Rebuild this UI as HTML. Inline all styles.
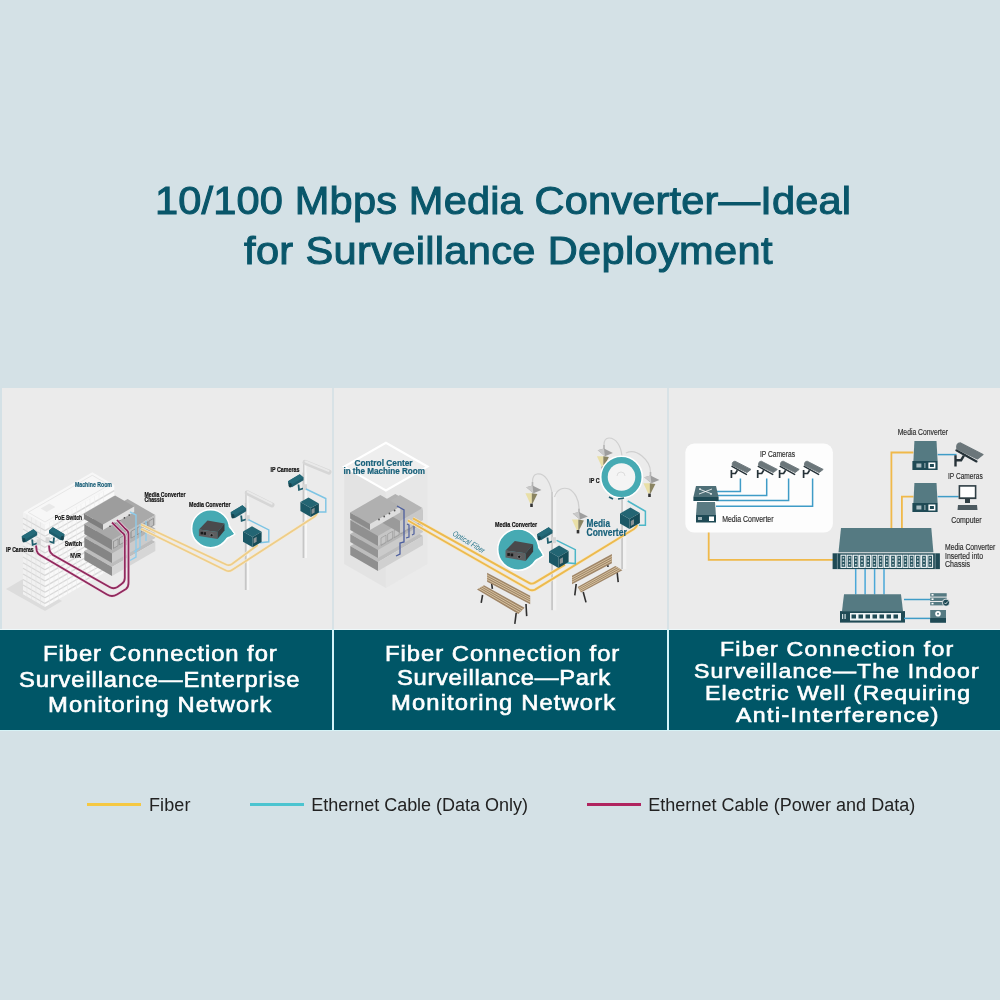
<!DOCTYPE html>
<html><head><meta charset="utf-8">
<style>
html,body{margin:0;padding:0;}
body{width:1000px;height:1000px;background:#d4e1e6;position:relative;overflow:hidden;font-family:"Liberation Sans",sans-serif;}
.t{position:absolute;white-space:nowrap;line-height:1;}
.tt{color:#09566a;}
.ct{color:#fff;}
.lg{color:#222;font-weight:normal;}
.ll{position:absolute;height:3px;}
.blk{position:absolute;}
svg.p{position:absolute;will-change:transform;}
</style></head>
<body>
<div class="blk" style="left:2px;top:388px;width:330px;height:241px;background:#ebebeb;"></div>
<div class="blk" style="left:334px;top:388px;width:333px;height:241px;background:#ebebeb;"></div>
<div class="blk" style="left:669px;top:388px;width:331px;height:241px;background:#ebebeb;"></div>
<div class="blk" style="left:0;top:630px;width:332px;height:100px;background:#005667;"></div>
<div class="blk" style="left:334px;top:630px;width:333px;height:100px;background:#005667;"></div>
<div class="blk" style="left:669px;top:630px;width:331px;height:100px;background:#005667;"></div>
<div class="blk" style="left:0;top:629px;width:1000px;height:1px;background:#eef8fa;"></div>
<div class="blk" style="left:0;top:730px;width:1000px;height:1px;background:#d6f2f6;"></div>
<div class="blk" style="left:332px;top:388px;width:2px;height:241px;background:#d8e2e6;"></div>
<div class="blk" style="left:667px;top:388px;width:2px;height:241px;background:#d8e2e6;"></div>
<div class="blk" style="left:332px;top:629px;width:2px;height:101px;background:#d2f4f8;"></div>
<div class="blk" style="left:667px;top:629px;width:2px;height:101px;background:#d2f4f8;"></div>
<div class="ll" style="left:87px;top:803px;width:54px;background:#f5c842;"></div>
<div class="ll" style="left:250px;top:803px;width:54px;background:#4bc4d0;"></div>
<div class="ll" style="left:587px;top:803px;width:54px;background:#b0245f;"></div>
<svg class="p" style="left:0;top:0" width="1000" height="1000" viewBox="0 0 1000 1000">
<defs><clipPath id="cp1"><rect x="2" y="388" width="330" height="241"/></clipPath></defs><g clip-path="url(#cp1)">
<polygon points="6.0,589.0 23.0,579.0 62.0,601.0 45.0,611.0" fill="#dcdcdc"/>
<polygon points="45.0,525.0 114.3,485.0 92.3,472.3 23.0,512.3" fill="#f7f7f7"/><polygon points="45.0,525.0 23.0,512.3 23.0,594.3 45.0,607.0" fill="#f1f1f1"/><polygon points="45.0,525.0 114.3,485.0 114.3,567.0 45.0,607.0" fill="#f9f9f9"/>
<polygon points="45.0,522.0 109.1,485.0 92.3,475.3 28.2,512.3" fill="none" stroke="#e2e2e2" stroke-width="0.8"/>
<polygon points="46.7,512.0 55.4,507.0 49.3,503.5 40.7,508.5" fill="#e9e9e9"/>
<line x1="45" y1="530.6" x2="114.3" y2="490.6" stroke="#d8d8d8" stroke-width="1.3"/>
<line x1="45" y1="536.2" x2="114.3" y2="496.2" stroke="#d8d8d8" stroke-width="1.3"/>
<line x1="45" y1="541.8" x2="114.3" y2="501.8" stroke="#d8d8d8" stroke-width="1.3"/>
<line x1="45" y1="547.4" x2="114.3" y2="507.4" stroke="#d8d8d8" stroke-width="1.3"/>
<line x1="45" y1="553.0" x2="114.3" y2="513.0" stroke="#d8d8d8" stroke-width="1.3"/>
<line x1="45" y1="558.6" x2="114.3" y2="518.6" stroke="#d8d8d8" stroke-width="1.3"/>
<line x1="45" y1="564.2" x2="114.3" y2="524.2" stroke="#d8d8d8" stroke-width="1.3"/>
<line x1="45" y1="569.8" x2="114.3" y2="529.8" stroke="#d8d8d8" stroke-width="1.3"/>
<line x1="45" y1="575.4" x2="114.3" y2="535.4" stroke="#d8d8d8" stroke-width="1.3"/>
<line x1="45" y1="581.0" x2="114.3" y2="541.0" stroke="#d8d8d8" stroke-width="1.3"/>
<line x1="45" y1="586.6" x2="114.3" y2="546.6" stroke="#d8d8d8" stroke-width="1.3"/>
<line x1="45" y1="592.2" x2="114.3" y2="552.2" stroke="#d8d8d8" stroke-width="1.3"/>
<line x1="45" y1="597.8" x2="114.3" y2="557.8" stroke="#d8d8d8" stroke-width="1.3"/>
<line x1="45" y1="603.4" x2="114.3" y2="563.4" stroke="#d8d8d8" stroke-width="1.3"/>
<line x1="49.5" y1="522.4" x2="49.5" y2="604.4" stroke="#ebebeb" stroke-width="0.6"/>
<line x1="54.0" y1="519.8" x2="54.0" y2="601.8" stroke="#ebebeb" stroke-width="0.6"/>
<line x1="58.5" y1="517.2" x2="58.5" y2="599.2" stroke="#ebebeb" stroke-width="0.6"/>
<line x1="63.0" y1="514.6" x2="63.0" y2="596.6" stroke="#ebebeb" stroke-width="0.6"/>
<line x1="67.5" y1="512.0" x2="67.5" y2="594.0" stroke="#ebebeb" stroke-width="0.6"/>
<line x1="72.0" y1="509.4" x2="72.0" y2="591.4" stroke="#ebebeb" stroke-width="0.6"/>
<line x1="76.5" y1="506.8" x2="76.5" y2="588.8" stroke="#ebebeb" stroke-width="0.6"/>
<line x1="81.0" y1="504.2" x2="81.0" y2="586.2" stroke="#ebebeb" stroke-width="0.6"/>
<line x1="85.5" y1="501.6" x2="85.5" y2="583.6" stroke="#ebebeb" stroke-width="0.6"/>
<line x1="90.0" y1="499.0" x2="90.0" y2="581.0" stroke="#ebebeb" stroke-width="0.6"/>
<line x1="94.5" y1="496.4" x2="94.5" y2="578.4" stroke="#ebebeb" stroke-width="0.6"/>
<line x1="99.0" y1="493.8" x2="99.0" y2="575.8" stroke="#ebebeb" stroke-width="0.6"/>
<line x1="103.5" y1="491.2" x2="103.5" y2="573.2" stroke="#ebebeb" stroke-width="0.6"/>
<line x1="45" y1="530.6" x2="23.0" y2="517.9" stroke="#d6d6d6" stroke-width="1.1"/>
<line x1="45" y1="536.2" x2="23.0" y2="523.5" stroke="#d6d6d6" stroke-width="1.1"/>
<line x1="45" y1="541.8" x2="23.0" y2="529.1" stroke="#d6d6d6" stroke-width="1.1"/>
<line x1="45" y1="547.4" x2="23.0" y2="534.7" stroke="#d6d6d6" stroke-width="1.1"/>
<line x1="45" y1="553.0" x2="23.0" y2="540.3" stroke="#d6d6d6" stroke-width="1.1"/>
<line x1="45" y1="558.6" x2="23.0" y2="545.9" stroke="#d6d6d6" stroke-width="1.1"/>
<line x1="45" y1="564.2" x2="23.0" y2="551.5" stroke="#d6d6d6" stroke-width="1.1"/>
<line x1="45" y1="569.8" x2="23.0" y2="557.1" stroke="#d6d6d6" stroke-width="1.1"/>
<line x1="45" y1="575.4" x2="23.0" y2="562.7" stroke="#d6d6d6" stroke-width="1.1"/>
<line x1="45" y1="581.0" x2="23.0" y2="568.3" stroke="#d6d6d6" stroke-width="1.1"/>
<line x1="45" y1="586.6" x2="23.0" y2="573.9" stroke="#d6d6d6" stroke-width="1.1"/>
<line x1="45" y1="592.2" x2="23.0" y2="579.5" stroke="#d6d6d6" stroke-width="1.1"/>
<line x1="45" y1="597.8" x2="23.0" y2="585.1" stroke="#d6d6d6" stroke-width="1.1"/>
<line x1="45" y1="603.4" x2="23.0" y2="590.7" stroke="#d6d6d6" stroke-width="1.1"/>
<line x1="40.5" y1="522.4" x2="40.5" y2="604.4" stroke="#e3e3e3" stroke-width="0.6"/>
<line x1="36.0" y1="519.8" x2="36.0" y2="601.8" stroke="#e3e3e3" stroke-width="0.6"/>
<line x1="31.5" y1="517.2" x2="31.5" y2="599.2" stroke="#e3e3e3" stroke-width="0.6"/>
<line x1="27.0" y1="514.6" x2="27.0" y2="596.6" stroke="#e3e3e3" stroke-width="0.6"/>
<polygon points="112.0,567.0 155.3,542.0 127.6,526.0 84.3,551.0" fill="#bdbdbd"/><polygon points="112.0,567.0 84.3,551.0 84.3,560.0 112.0,576.0" fill="#8b8b8b"/><polygon points="112.0,567.0 155.3,542.0 155.3,551.0 112.0,576.0" fill="#d6d6d6"/>
<polygon points="112.0,553.5 155.3,528.5 127.6,512.5 84.3,537.5" fill="#b3b3b3"/><polygon points="112.0,553.5 84.3,537.5 84.3,547.0 112.0,563.0" fill="#858585"/><polygon points="112.0,553.5 155.3,528.5 155.3,538.0 112.0,563.0" fill="#cbcbcb"/>
<polygon points="112.0,540.0 155.3,515.0 127.6,499.0 84.3,524.0" fill="#a9a9a9"/><polygon points="112.0,540.0 84.3,524.0 84.3,534.0 112.0,550.0" fill="#868686"/><polygon points="112.0,540.0 155.3,515.0 155.3,525.0 112.0,550.0" fill="#bfbfbf"/>
<polygon points="113.5,541.5 118.1,538.9 118.1,545.7 113.5,548.4" fill="none" stroke="#6e6e6e" stroke-width="0.5"/>
<polygon points="119.4,538.1 124.0,535.4 124.0,542.3 119.4,544.9" fill="none" stroke="#6e6e6e" stroke-width="0.5"/>
<polygon points="125.3,534.7 129.9,532.0 129.9,538.9 125.3,541.5" fill="none" stroke="#6e6e6e" stroke-width="0.5"/>
<polygon points="131.2,531.3 135.8,528.6 135.8,535.5 131.2,538.1" fill="none" stroke="#6e6e6e" stroke-width="0.5"/>
<polygon points="137.1,527.9 141.7,525.2 141.7,532.1 137.1,534.7" fill="none" stroke="#6e6e6e" stroke-width="0.5"/>
<polygon points="143.0,524.5 147.6,521.8 147.6,528.7 143.0,531.3" fill="none" stroke="#6e6e6e" stroke-width="0.5"/>
<polygon points="148.9,521.1 153.5,518.4 153.5,525.3 148.9,527.9" fill="none" stroke="#6e6e6e" stroke-width="0.5"/>
<polygon points="103.0,524.5 134.2,506.5 115.1,495.5 83.9,513.5" fill="#9d9d9d"/><polygon points="103.0,524.5 83.9,513.5 83.9,519.0 103.0,530.0" fill="#7e7e7e"/><polygon points="103.0,524.5 134.2,506.5 134.2,512.0 103.0,530.0" fill="#e2e2e2"/>
<circle cx="110.0" cy="526.2" r="0.8" fill="#444"/>
<circle cx="114.8" cy="523.4" r="0.8" fill="#444"/>
<circle cx="119.6" cy="520.7" r="0.8" fill="#444"/>
<circle cx="124.4" cy="517.9" r="0.8" fill="#444"/>
<circle cx="129.2" cy="515.1" r="0.8" fill="#444"/>
<path d="M130,512 L136,515 L136,557 L129,561" fill="none" stroke="#8ecbea" stroke-width="1.4"/>
<path d="M140,524 L140,548 L134,552" fill="none" stroke="#8ecbea" stroke-width="1.3"/>
<path d="M146,521 L146,541" fill="none" stroke="#8ecbea" stroke-width="1.3"/>
<path d="M36,545.5 L36.8,551 Q37.5,553.5 40,555 L107,594.5 Q112,597.5 117,594.5 L126,589 Q128.5,587 128.5,583 L128.5,534 Q128.5,531 125.5,529 L117,520" fill="none" stroke="#f0d8e4" stroke-width="3.0"/>
<path d="M36,545.5 L36.8,551 Q37.5,553.5 40,555 L107,594.5 Q112,597.5 117,594.5 L126,589 Q128.5,587 128.5,583 L128.5,534 Q128.5,531 125.5,529 L117,520" fill="none" stroke="#912a5e" stroke-width="1.8"/>
<path d="M49,545.5 L49.6,550.5 Q50.2,553 53,555 L109.5,587 Q113.5,589.5 117.5,587 L121.5,584 Q124.8,582 124.8,578 L124.8,537 Q124.8,534 121.5,532 L112,522.5" fill="none" stroke="#f0d8e4" stroke-width="3.0"/>
<path d="M49,545.5 L49.6,550.5 Q50.2,553 53,555 L109.5,587 Q113.5,589.5 117.5,587 L121.5,584 Q124.8,582 124.8,578 L124.8,537 Q124.8,534 121.5,532 L112,522.5" fill="none" stroke="#912a5e" stroke-width="1.8"/>
<g transform="translate(21.7,537)"><path d="M10.5,2.5 L11,7.8 L16.5,6" fill="none" stroke="#1f5e6d" stroke-width="1.8"/><rect x="15" y="2.2" width="4" height="6" fill="#d6d6d6"/><polygon points="0.0,-0.8 11.7,-7.7 15.5,-4.6 15.5,-1.8 3.9,5.2 0.2,2.2" fill="#1f5e6d"/><polygon points="0.0,-0.8 11.7,-7.7 15.5,-4.6 3.6,2.5" fill="#246a79"/><ellipse cx="2.2" cy="3.2" rx="1.6" ry="2.2" fill="#15434e"/></g>
<g transform="translate(64.5,535) scale(-1,1)"><path d="M10.5,2.5 L11,7.8 L16.5,6" fill="none" stroke="#1f5e6d" stroke-width="1.8"/><rect x="15" y="2.2" width="4" height="6" fill="#d6d6d6"/><polygon points="0.0,-0.8 11.7,-7.7 15.5,-4.6 15.5,-1.8 3.9,5.2 0.2,2.2" fill="#1f5e6d"/><polygon points="0.0,-0.8 11.7,-7.7 15.5,-4.6 3.6,2.5" fill="#246a79"/><ellipse cx="2.2" cy="3.2" rx="1.6" ry="2.2" fill="#15434e"/></g>
<rect x="244.8" y="503" width="2" height="87" fill="#c6c6c6"/>
<rect x="246.8" y="503" width="2.4" height="87" fill="#f6f6f6"/>
<rect x="245.3" y="491" width="1.5" height="14" fill="#cbcbcb"/>
<rect x="246.8" y="491" width="1.8" height="14" fill="#f4f4f4"/>
<line x1="247.3" y1="492.8" x2="272" y2="504.90000000000003" stroke="#d6d6d6" stroke-width="5" stroke-linecap="round"/>
<line x1="247.8" y1="491.9" x2="271.5" y2="503.70000000000005" stroke="#e9e9e9" stroke-width="2" stroke-linecap="round"/>
<rect x="302.6" y="472.6" width="2" height="85.39999999999998" fill="#c6c6c6"/>
<rect x="304.6" y="472.6" width="2.4" height="85.39999999999998" fill="#f6f6f6"/>
<rect x="303.1" y="460.6" width="1.5" height="14" fill="#cbcbcb"/>
<rect x="304.6" y="460.6" width="1.8" height="14" fill="#f4f4f4"/>
<line x1="305.1" y1="462.40000000000003" x2="329" y2="472.1" stroke="#d6d6d6" stroke-width="5" stroke-linecap="round"/>
<line x1="305.6" y1="461.5" x2="328.5" y2="470.90000000000003" stroke="#e9e9e9" stroke-width="2" stroke-linecap="round"/>
<path d="M141,524.6 L226,564.5 Q229,566 232,564 L257.8,545" fill="none" stroke="#f6ead2" stroke-width="3"/>
<path d="M141,524.6 L226,564.5 Q229,566 232,564 L257.8,545" fill="none" stroke="#eecd88" stroke-width="1.7"/>
<path d="M141,528.7 L226,570.5 Q229,572 232,570 L314,517 Q317,515 317,512" fill="none" stroke="#f6ead2" stroke-width="3"/>
<path d="M141,528.7 L226,570.5 Q229,572 232,570 L314,517 Q317,515 317,512" fill="none" stroke="#eecd88" stroke-width="1.7"/>
<g transform="translate(230.7,513)"><path d="M10.5,2.5 L11,7.8 L16.5,6" fill="none" stroke="#1f5e6d" stroke-width="1.8"/><rect x="15" y="2.2" width="4" height="6" fill="#d6d6d6"/><polygon points="0.0,-0.8 11.7,-7.7 15.5,-4.6 15.5,-1.8 3.9,5.2 0.2,2.2" fill="#1f5e6d"/><polygon points="0.0,-0.8 11.7,-7.7 15.5,-4.6 3.6,2.5" fill="#246a79"/><ellipse cx="2.2" cy="3.2" rx="1.6" ry="2.2" fill="#15434e"/></g>
<g transform="translate(288,482)"><path d="M10.5,2.5 L11,7.8 L16.5,6" fill="none" stroke="#1f5e6d" stroke-width="1.8"/><rect x="15" y="2.2" width="4" height="6" fill="#d6d6d6"/><polygon points="0.0,-0.8 11.7,-7.7 15.5,-4.6 15.5,-1.8 3.9,5.2 0.2,2.2" fill="#1f5e6d"/><polygon points="0.0,-0.8 11.7,-7.7 15.5,-4.6 3.6,2.5" fill="#246a79"/><ellipse cx="2.2" cy="3.2" rx="1.6" ry="2.2" fill="#15434e"/></g>
<path d="M248.4,519.7 L268.8,530 L268.8,541.8 L260,542.7" fill="none" stroke="#7cc4e4" stroke-width="1.4"/>
<path d="M306,489 L325.8,498.5 L325.8,512 L318,512" fill="none" stroke="#7cc4e4" stroke-width="1.4"/>
<polygon points="252.6,537.0 261.6,531.8 252.0,526.2 243.0,531.5" fill="#236573"/><polygon points="252.6,537.0 243.0,531.5 243.0,541.7 252.6,547.2" fill="#1b5866"/><polygon points="252.6,537.0 261.6,531.8 261.6,542.0 252.6,547.2" fill="#164c58"/>
<polygon points="253.6,538.5 256.6,536.8 256.6,541.8 253.6,543.5" fill="#8a9396"/>
<polygon points="310.8,508.0 318.9,503.4 308.5,497.4 300.4,502.0" fill="#236573"/><polygon points="310.8,508.0 300.4,502.0 300.4,511.0 310.8,517.0" fill="#1b5866"/><polygon points="310.8,508.0 318.9,503.4 318.9,512.4 310.8,517.0" fill="#164c58"/>
<polygon points="311.6,509.5 314.6,507.8 314.6,512.5 311.6,514.2" fill="#8a9396"/>
<polygon points="229.4,526.2 234.8,534.1 226.6,538.9" fill="#46aab3" stroke="#fff" stroke-width="1.6" stroke-linejoin="round"/><circle cx="210.6" cy="528.7" r="19" fill="#46aab3" stroke="#fff" stroke-width="1.6"/><polygon points="228.5,526.7 233.8,533.9 225.9,538.1 225.2,532.0" fill="#46aab3"/>
<polygon points="198.9,529.4 207.5,520.5 224.5,523.6 217.5,532.0" fill="#4a4a4c"/><polygon points="198.9,529.4 217.5,532.0 217.5,539.0 198.9,536.0" fill="#5e5e60"/><polygon points="217.5,532.0 224.5,523.6 224.5,530.5 217.5,539.0" fill="#3a3a3c"/><rect x="200.6" y="531.8" width="2.4" height="2.6" fill="#1a1a1a"/><rect x="203.6" y="532.2" width="2.4" height="2.6" fill="#1a1a1a"/><circle cx="211.6" cy="535.2" r="1.5" fill="#151515" stroke="#9a9a9a" stroke-width="0.5"/>
</g>
<text x="75" y="486.6" font-family="Liberation Sans" font-weight="bold" font-size="7.2" fill="#1a5f78" stroke="#1a5f78" stroke-width="0.22" textLength="37.0" lengthAdjust="spacingAndGlyphs">Machine Room</text>
<text x="54.7" y="519.6" font-family="Liberation Sans" font-weight="bold" font-size="7.2" fill="#111" stroke="#111" stroke-width="0.22" textLength="27.5" lengthAdjust="spacingAndGlyphs">PoE Switch</text>
<text x="64.8" y="545.6" font-family="Liberation Sans" font-weight="bold" font-size="7.2" fill="#111" stroke="#111" stroke-width="0.22" textLength="17.2" lengthAdjust="spacingAndGlyphs">Switch</text>
<text x="70.2" y="558.3" font-family="Liberation Sans" font-weight="bold" font-size="7.2" fill="#111" stroke="#111" stroke-width="0.22" textLength="10.8" lengthAdjust="spacingAndGlyphs">NVR</text>
<text x="6" y="551.9" font-family="Liberation Sans" font-weight="bold" font-size="7.2" fill="#111" stroke="#111" stroke-width="0.22" textLength="27.7" lengthAdjust="spacingAndGlyphs">IP Cameras</text>
<text x="144.5" y="497.1" font-family="Liberation Sans" font-weight="bold" font-size="7.2" fill="#111" stroke="#111" stroke-width="0.22" textLength="41.0" lengthAdjust="spacingAndGlyphs">Media Converter</text>
<text x="144.5" y="502.1" font-family="Liberation Sans" font-weight="bold" font-size="7.2" fill="#111" stroke="#111" stroke-width="0.22" textLength="19.5" lengthAdjust="spacingAndGlyphs">Chassis</text>
<text x="189" y="507.0" font-family="Liberation Sans" font-weight="bold" font-size="7.2" fill="#111" stroke="#111" stroke-width="0.22" textLength="41.6" lengthAdjust="spacingAndGlyphs">Media Converter</text>
<text x="270.5" y="471.6" font-family="Liberation Sans" font-weight="bold" font-size="7.2" fill="#111" stroke="#111" stroke-width="0.22" textLength="29.0" lengthAdjust="spacingAndGlyphs">IP Cameras</text>
</svg><svg class="p" style="left:0;top:0" width="1000" height="1000" viewBox="0 0 1000 1000">
<defs><clipPath id="cp2"><rect x="334" y="388" width="333" height="241"/></clipPath></defs><g clip-path="url(#cp2)">
<polygon points="344.2,466.6 385.9,490.4 385.9,588.0 344.2,564.0" fill="#e3e3e3"/>
<polygon points="385.9,490.4 427.5,466.6 427.5,564.0 385.9,588.0" fill="#e7e7e7"/>
<polygon points="344.2,466.6 385.9,442.8 427.5,466.6 385.9,490.4" fill="#eeeeee" stroke="#ffffff" stroke-width="2.2"/>
<polygon points="378.0,562.0 423.0,536.0 395.3,520.0 350.3,546.0" fill="#bdbdbd"/><polygon points="378.0,562.0 350.3,546.0 350.3,555.0 378.0,571.0" fill="#8f8f8f"/><polygon points="378.0,562.0 423.0,536.0 423.0,545.0 378.0,571.0" fill="#d0d0d0"/>
<polygon points="378.0,550.0 423.0,524.0 395.3,508.0 350.3,534.0" fill="#b7b7b7"/><polygon points="378.0,550.0 350.3,534.0 350.3,542.0 378.0,558.0" fill="#939393"/><polygon points="378.0,550.0 423.0,524.0 423.0,532.0 378.0,558.0" fill="#cbcbcb"/>
<polygon points="378.0,536.0 423.0,510.0 395.3,494.0 350.3,520.0" fill="#b2b2b2"/><polygon points="378.0,536.0 350.3,520.0 350.3,530.0 378.0,546.0" fill="#909090"/><polygon points="378.0,536.0 423.0,510.0 423.0,520.0 378.0,546.0" fill="#c6c6c6"/>
<polygon points="381.0,538.0 386.0,535.1 386.0,542.5 381.0,545.4" fill="none" stroke="#8a8a8a" stroke-width="0.5"/>
<polygon points="387.6,534.2 392.6,531.3 392.6,538.7 387.6,541.6" fill="none" stroke="#8a8a8a" stroke-width="0.5"/>
<polygon points="394.2,530.4 399.2,527.5 399.2,534.9 394.2,537.8" fill="none" stroke="#8a8a8a" stroke-width="0.5"/>
<polygon points="400.8,526.6 405.8,523.7 405.8,531.1 400.8,534.0" fill="none" stroke="#8a8a8a" stroke-width="0.5"/>
<polygon points="407.4,522.8 412.4,519.9 412.4,527.3 407.4,530.2" fill="none" stroke="#8a8a8a" stroke-width="0.5"/>
<polygon points="414.0,519.0 419.0,516.1 419.0,523.5 414.0,526.4" fill="none" stroke="#8a8a8a" stroke-width="0.5"/>
<polygon points="400.0,521.0 422.5,508.0 400.0,495.0 377.5,508.0" fill="#b5b5b5"/><polygon points="400.0,521.0 377.5,508.0 377.5,520.0 400.0,533.0" fill="#9a9a9a"/><polygon points="400.0,521.0 422.5,508.0 422.5,520.0 400.0,533.0" fill="#c8c8c8"/>
<polygon points="370.0,524.0 400.3,506.5 380.4,495.0 350.1,512.5" fill="#b0b0b0"/><polygon points="370.0,524.0 350.1,512.5 350.1,518.5 370.0,530.0" fill="#8c8c8c"/><polygon points="370.0,524.0 400.3,506.5 400.3,512.5 370.0,530.0" fill="#dedede"/>
<circle cx="379.0" cy="519.5" r="0.9" fill="#555"/>
<circle cx="384.2" cy="516.5" r="0.9" fill="#555"/>
<circle cx="389.4" cy="513.5" r="0.9" fill="#555"/>
<circle cx="394.6" cy="510.5" r="0.9" fill="#555"/>
<path d="M397,506 L404,510 L404,542 L400,543 L400,554 L396,556" fill="none" stroke="#4d5f9e" stroke-width="1.3"/>
<path d="M407,524 L409,525 L409,537 L406,538" fill="none" stroke="#4d5f9e" stroke-width="1.2"/>
<path d="M413,523 L414,524 L414,534 L412,535" fill="none" stroke="#4d5f9e" stroke-width="1.2"/>
<rect x="551.2" y="492" width="1.9" height="118.20000000000005" fill="#c8c8c8"/>
<rect x="553.1" y="492" width="3.2" height="118.20000000000005" fill="#f2f2f2"/>
<rect x="621.2" y="490" width="1.9" height="79" fill="#c8c8c8"/>
<rect x="623.1" y="490" width="3.2" height="79" fill="#f2f2f2"/>
<path d="M413,518.4 L529,582.8 Q532,584.5 535,582.6 L565,564.6" fill="none" stroke="#f7e6c2" stroke-width="3.2"/>
<path d="M413,518.4 L529,582.8 Q532,584.5 535,582.6 L565,564.6" fill="none" stroke="#ecba4e" stroke-width="1.9"/>
<path d="M408,520.5 L529,589.5 Q532,591 535,589.6 L634,529 Q637,527 637,525" fill="none" stroke="#f7e6c2" stroke-width="3.2"/>
<path d="M408,520.5 L529,589.5 Q532,591 535,589.6 L634,529 Q637,527 637,525" fill="none" stroke="#ecba4e" stroke-width="1.9"/>
<line x1="482.6" y1="595" x2="481.2" y2="602.8" stroke="#2f2f2f" stroke-width="1.6"/><line x1="491.7" y1="584" x2="492.4" y2="588.8" stroke="#2f2f2f" stroke-width="1.6"/><line x1="526" y1="604" x2="526.7" y2="616.1" stroke="#2f2f2f" stroke-width="1.6"/><line x1="516.2" y1="613" x2="514.8" y2="623.8" stroke="#2f2f2f" stroke-width="1.6"/><polygon points="487.1,572.7 530.2,595.8 530.2,604.2 487.1,581.8" fill="#a08668"/><line x1="487.1" y1="575.0" x2="530.2" y2="597.9" stroke="#e2cfab" stroke-width="0.8"/><line x1="487.1" y1="577.2" x2="530.2" y2="600.0" stroke="#e2cfab" stroke-width="0.8"/><line x1="487.1" y1="579.5" x2="530.2" y2="602.1" stroke="#e2cfab" stroke-width="0.8"/><polygon points="484.0,585.3 524.6,607.7 518.3,614.0 477.0,589.5" fill="#a08668"/><line x1="482.2" y1="586.3" x2="523.0" y2="609.3" stroke="#e2cfab" stroke-width="0.8"/><line x1="480.5" y1="587.4" x2="521.5" y2="610.9" stroke="#e2cfab" stroke-width="0.8"/><line x1="478.8" y1="588.5" x2="519.9" y2="612.4" stroke="#e2cfab" stroke-width="0.8"/>
<line x1="576.2" y1="584" x2="574.8" y2="595.4" stroke="#2f2f2f" stroke-width="1.6"/><line x1="583.2" y1="592" x2="586" y2="602.4" stroke="#2f2f2f" stroke-width="1.6"/><line x1="616.8" y1="569" x2="618.2" y2="582.1" stroke="#2f2f2f" stroke-width="1.6"/><line x1="607" y1="560" x2="608" y2="567" stroke="#2f2f2f" stroke-width="1.6"/><polygon points="572.0,575.8 611.9,554.1 611.9,563.2 572.0,584.2" fill="#a08668"/><line x1="572.0" y1="577.9" x2="611.9" y2="556.4" stroke="#e2cfab" stroke-width="0.8"/><line x1="572.0" y1="580.0" x2="611.9" y2="558.7" stroke="#e2cfab" stroke-width="0.8"/><line x1="572.0" y1="582.1" x2="611.9" y2="560.9" stroke="#e2cfab" stroke-width="0.8"/><polygon points="577.6,587.0 615.4,566.0 622.4,570.2 581.0,592.6" fill="#a08668"/><line x1="578.5" y1="588.4" x2="617.1" y2="567.0" stroke="#e2cfab" stroke-width="0.8"/><line x1="579.3" y1="589.8" x2="618.9" y2="568.1" stroke="#e2cfab" stroke-width="0.8"/><line x1="580.1" y1="591.2" x2="620.6" y2="569.2" stroke="#e2cfab" stroke-width="0.8"/>
<path d="M552.6,497 C551,482 545,473 537,474 C534,474.5 532.5,478 532.5,482" fill="none" stroke="#cfcfcf" stroke-width="1.2"/>
<path d="M554.5,497 C557,489 563,487 569,489 C575,492 579,500 579,508" fill="none" stroke="#cfcfcf" stroke-width="1.2"/>
<path d="M622,456 C621,446 616,438 609,438 C605,438 604,441 604,445" fill="none" stroke="#cfcfcf" stroke-width="1.2"/>
<path d="M626,453 C630,451 636,451 642,456 C648,461 650.5,466 650.5,472" fill="none" stroke="#cfcfcf" stroke-width="1.2"/>
<rect x="531.7" y="482" width="1.6" height="6" fill="#b4b4b4"/><polygon points="526.2,487.2 532.5,485.5 541.4,490.0 533.4,493.2" fill="#9e9e9e"/><polygon points="526.2,487.2 532.5,485.5 533.4,493.2" fill="#c9c9c9"/><polygon points="525.4,493.2 531.8,493.2 531.8,503.6 530.2,503.6" fill="#e9dfa6"/><polygon points="531.8,493.2 537.4,494.0 532.6,503.6 531.8,503.6" fill="#8a8462"/><rect x="530.2" y="503.6" width="2.6" height="3.4" fill="#333"/>
<rect x="578.2" y="508.4" width="1.6" height="6" fill="#b4b4b4"/><polygon points="572.7,513.6 579.0,511.9 587.9,516.4 579.9,519.6" fill="#9e9e9e"/><polygon points="572.7,513.6 579.0,511.9 579.9,519.6" fill="#c9c9c9"/><polygon points="571.9,519.6 578.3,519.6 578.3,530.0 576.7,530.0" fill="#e9dfa6"/><polygon points="578.3,519.6 583.9,520.4 579.1,530.0 578.3,530.0" fill="#8a8462"/><rect x="576.7" y="530.0" width="2.6" height="3.4" fill="#333"/>
<rect x="603.2" y="445" width="1.6" height="6" fill="#b4b4b4"/><polygon points="597.7,450.2 604.0,448.5 612.9,453.0 604.9,456.2" fill="#9e9e9e"/><polygon points="597.7,450.2 604.0,448.5 604.9,456.2" fill="#c9c9c9"/><polygon points="596.9,456.2 603.3,456.2 603.3,466.6 601.7,466.6" fill="#e9dfa6"/><polygon points="603.3,456.2 608.9,457.0 604.1,466.6 603.3,466.6" fill="#8a8462"/><rect x="601.7" y="466.6" width="2.6" height="3.4" fill="#333"/>
<rect x="649.7" y="472" width="1.6" height="6" fill="#b4b4b4"/><polygon points="644.2,477.2 650.5,475.5 659.4,480.0 651.4,483.2" fill="#9e9e9e"/><polygon points="644.2,477.2 650.5,475.5 651.4,483.2" fill="#c9c9c9"/><polygon points="643.4,483.2 649.8,483.2 649.8,493.6 648.2,493.6" fill="#e9dfa6"/><polygon points="649.8,483.2 655.4,484.0 650.6,493.6 649.8,493.6" fill="#8a8462"/><rect x="648.2" y="493.6" width="2.6" height="3.4" fill="#333"/>
<g transform="translate(537,535)"><path d="M10.5,2.5 L11,7.8 L16.5,6" fill="none" stroke="#1f5e6d" stroke-width="1.8"/><rect x="15" y="2.2" width="4" height="6" fill="#d6d6d6"/><polygon points="0.0,-0.8 11.7,-7.7 15.5,-4.6 15.5,-1.8 3.9,5.2 0.2,2.2" fill="#1f5e6d"/><polygon points="0.0,-0.8 11.7,-7.7 15.5,-4.6 3.6,2.5" fill="#246a79"/><ellipse cx="2.2" cy="3.2" rx="1.6" ry="2.2" fill="#15434e"/></g>
<path d="M556.6,540.3 L575.3,549.6 L575.3,563.6 L566,562.7" fill="none" stroke="#4db7c8" stroke-width="1.5"/>
<path d="M627.7,501 L645.4,511.3 L645.4,525.3 L638.9,525.3" fill="none" stroke="#4db7c8" stroke-width="1.5"/>
<polygon points="558.5,557.0 568.6,551.1 559.1,545.6 549.0,551.5" fill="#236573"/><polygon points="558.5,557.0 549.0,551.5 549.0,562.5 558.5,568.0" fill="#1b5866"/><polygon points="558.5,557.0 568.6,551.1 568.6,562.1 558.5,568.0" fill="#164c58"/>
<polygon points="559.8,559 563,557.2 563,562.5 559.8,564.3" fill="#8a9396"/>
<polygon points="629.5,519.0 639.9,513.0 630.4,507.5 620.0,513.5" fill="#236573"/><polygon points="629.5,519.0 620.0,513.5 620.0,523.5 629.5,529.0" fill="#1b5866"/><polygon points="629.5,519.0 639.9,513.0 639.9,523.0 629.5,529.0" fill="#164c58"/>
<polygon points="630.8,521 634,519.2 634,524.2 630.8,526" fill="#8a9396"/>
<polygon points="538.8,547.1 543.5,555.5 535.5,560.9" fill="#46aab3" stroke="#fff" stroke-width="1.6" stroke-linejoin="round"/><circle cx="518.3" cy="549.6" r="20.6" fill="#46aab3" stroke="#fff" stroke-width="1.6"/><polygon points="537.8,547.6 542.5,555.3 534.9,560.0 534.5,553.4" fill="#46aab3"/>
<polygon points="505.5,550.5 514.8,540.9 533.1,544.2 525.6,553.3" fill="#4a4a4c"/><polygon points="505.5,550.5 525.6,553.3 525.6,560.9 505.5,557.6" fill="#5e5e60"/><polygon points="525.6,553.3 533.1,544.2 533.1,551.7 525.6,560.9" fill="#3a3a3c"/><rect x="507.3" y="553.1" width="2.6" height="2.8" fill="#1a1a1a"/><rect x="510.6" y="553.5" width="2.6" height="2.8" fill="#1a1a1a"/><circle cx="519.2" cy="556.8" r="1.6" fill="#151515" stroke="#9a9a9a" stroke-width="0.5"/>
<circle cx="621.5" cy="477" r="20.8" fill="#46aab3" stroke="#fff" stroke-width="1.6"/>
<circle cx="621.5" cy="477" r="13.8" fill="#f4f4f4"/>
<path d="M617,476 A4,4 0 0 1 625,476" fill="none" stroke="#ccc" stroke-width="0.6"/>
<path d="M609,497 L613,499" stroke="#1f5e6d" stroke-width="1.6"/><path d="M618,499 L624,498" stroke="#1f5e6d" stroke-width="1.6"/>
</g>
<text x="354.4" y="465.7" font-family="Liberation Sans" font-weight="bold" font-size="9.5" fill="#17607a" stroke="#17607a" stroke-width="0.22" textLength="58.2" lengthAdjust="spacingAndGlyphs">Control Center</text>
<text x="343.4" y="473.7" font-family="Liberation Sans" font-weight="bold" font-size="9.5" fill="#17607a" stroke="#17607a" stroke-width="0.22" textLength="81.6" lengthAdjust="spacingAndGlyphs">in the Machine Room</text>
<text x="495" y="527.0" font-family="Liberation Sans" font-weight="bold" font-size="7.2" fill="#111" stroke="#111" stroke-width="0.22" textLength="42.0" lengthAdjust="spacingAndGlyphs">Media Converter</text>
<text x="589.3" y="483.1" font-family="Liberation Sans" font-weight="bold" font-size="7.2" fill="#111" stroke="#111" stroke-width="0.22" textLength="10.3" lengthAdjust="spacingAndGlyphs">IP C</text>
<text x="586.5" y="527.2" font-family="Liberation Sans" font-weight="bold" font-size="10.5" fill="#17607a" stroke="#17607a" stroke-width="0.22" textLength="23.5" lengthAdjust="spacingAndGlyphs">Media</text>
<text x="586.5" y="535.6" font-family="Liberation Sans" font-weight="bold" font-size="10.5" fill="#17607a" stroke="#17607a" stroke-width="0.22" textLength="40.2" lengthAdjust="spacingAndGlyphs">Converter</text>
<text x="0" y="0" font-family="Liberation Sans" font-style="italic" font-size="8" fill="#2f7a8e" textLength="36" lengthAdjust="spacingAndGlyphs" transform="translate(452,535) rotate(31)">Optical Fiber</text>
</svg><svg class="p" style="left:0;top:0" width="1000" height="1000" viewBox="0 0 1000 1000">
<defs><clipPath id="cp3"><rect x="669" y="388" width="331" height="241"/></clipPath></defs><g clip-path="url(#cp3)">
<rect x="685.3" y="443.5" width="147.6" height="89.1" rx="9" fill="#fdfdfd"/>
<path d="M708.7,532.6 L708.7,559.8 L833,559.8" fill="none" stroke="#f0b94a" stroke-width="1.8"/>
<path d="M891.4,528.1 L891.4,452.5 L913.4,452.5" fill="none" stroke="#f0b94a" stroke-width="1.8"/>
<path d="M901.9,528.1 L901.9,496.6 L913.4,496.6" fill="none" stroke="#f0b94a" stroke-width="1.8"/>
<path d="M740.4,478.6 L740.4,491.5 L716,491.5" fill="none" stroke="#3f9cc7" stroke-width="1.5"/>
<path d="M766.7,478.6 L766.7,495.6 L716,495.6" fill="none" stroke="#3f9cc7" stroke-width="1.5"/>
<path d="M788.6,478.6 L788.6,500.4 L716,500.4" fill="none" stroke="#3f9cc7" stroke-width="1.5"/>
<path d="M812.6,478.6 L812.6,506.2 L716,506.2" fill="none" stroke="#3f9cc7" stroke-width="1.5"/>
<g transform="translate(731.4,478) scale(1.0)"><path d="M0,-8 L0,0 M0,-4.5 L4,-4.5 L6,-7.8" fill="none" stroke="#263238" stroke-width="1.7"/><path d="M0.6,-11.6 L15,-3.6" fill="none" stroke="#263238" stroke-width="1.5" stroke-linecap="round"/><path d="M3.6,-16.8 Q0.2,-16.5 1,-12.6 L15.6,-5.4 L19.6,-8.6 Z" fill="#6b767a" stroke="#6b767a" stroke-width="0.9" stroke-linejoin="round"/></g>
<g transform="translate(757.7,478) scale(1.0)"><path d="M0,-8 L0,0 M0,-4.5 L4,-4.5 L6,-7.8" fill="none" stroke="#263238" stroke-width="1.7"/><path d="M0.6,-11.6 L15,-3.6" fill="none" stroke="#263238" stroke-width="1.5" stroke-linecap="round"/><path d="M3.6,-16.8 Q0.2,-16.5 1,-12.6 L15.6,-5.4 L19.6,-8.6 Z" fill="#6b767a" stroke="#6b767a" stroke-width="0.9" stroke-linejoin="round"/></g>
<g transform="translate(779.6,478) scale(1.0)"><path d="M0,-8 L0,0 M0,-4.5 L4,-4.5 L6,-7.8" fill="none" stroke="#263238" stroke-width="1.7"/><path d="M0.6,-11.6 L15,-3.6" fill="none" stroke="#263238" stroke-width="1.5" stroke-linecap="round"/><path d="M3.6,-16.8 Q0.2,-16.5 1,-12.6 L15.6,-5.4 L19.6,-8.6 Z" fill="#6b767a" stroke="#6b767a" stroke-width="0.9" stroke-linejoin="round"/></g>
<g transform="translate(803.6,478) scale(1.0)"><path d="M0,-8 L0,0 M0,-4.5 L4,-4.5 L6,-7.8" fill="none" stroke="#263238" stroke-width="1.7"/><path d="M0.6,-11.6 L15,-3.6" fill="none" stroke="#263238" stroke-width="1.5" stroke-linecap="round"/><path d="M3.6,-16.8 Q0.2,-16.5 1,-12.6 L15.6,-5.4 L19.6,-8.6 Z" fill="#6b767a" stroke="#6b767a" stroke-width="0.9" stroke-linejoin="round"/></g>
<polygon points="696.0,486.0 716.0,486.0 718.6,497.0 693.4,497.0" fill="#4e6f77"/>
<rect x="693.4" y="497" width="25.2" height="4" fill="#1f4a55"/>
<path d="M699,489 L712,494 M712,489 L699,494 M699,489 l2,-0.2 M712,494 l-2,0.2" stroke="#fff" stroke-width="0.8" fill="none"/>
<polygon points="697.0,502.0 715.0,502.0 715.9,515.0 696.0,515.0" fill="#5a7a82"/>
<rect x="696" y="515" width="20" height="7.5" fill="#1f4a55"/>
<rect x="709" y="516.5" width="5" height="4.5" fill="#fff"/><rect x="698" y="517" width="4" height="3" fill="#9fb3b8"/>
<polygon points="914.4,441.0 936.5,441.0 937.6,461.0 913.4,461.0" fill="#557a82"/><rect x="912.4" y="461" width="25.2" height="9" fill="#1f4a55"/><rect x="928.4" y="462.5" width="7" height="6" fill="#fff"/><rect x="929.9" y="464" width="4" height="3" fill="#1f4a55"/><rect x="916.4" y="463.5" width="5" height="4" fill="#a9bcc1"/><rect x="924.4" y="463" width="1" height="5" fill="#a9bcc1"/>
<polygon points="914.4,483.0 936.5,483.0 937.6,503.0 913.4,503.0" fill="#557a82"/><rect x="912.4" y="503" width="25.2" height="9" fill="#1f4a55"/><rect x="928.4" y="504.5" width="7" height="6" fill="#fff"/><rect x="929.9" y="506" width="4" height="3" fill="#1f4a55"/><rect x="916.4" y="505.5" width="5" height="4" fill="#a9bcc1"/><rect x="924.4" y="505" width="1" height="5" fill="#a9bcc1"/>
<path d="M937.6,454.6 L956.5,454.6" stroke="#3f9cc7" stroke-width="1.5"/>
<path d="M937.6,496.6 L958.6,496.6" stroke="#3f9cc7" stroke-width="1.5"/>
<g transform="translate(955.5,466.5) scale(1.4)"><path d="M0,-8 L0,0 M0,-4.5 L4,-4.5 L6,-7.8" fill="none" stroke="#263238" stroke-width="1.7"/><path d="M0.6,-11.6 L15,-3.6" fill="none" stroke="#263238" stroke-width="1.5" stroke-linecap="round"/><path d="M3.6,-16.8 Q0.2,-16.5 1,-12.6 L15.6,-5.4 L19.6,-8.6 Z" fill="#6b767a" stroke="#6b767a" stroke-width="0.9" stroke-linejoin="round"/></g>
<rect x="958.6" y="485.1" width="17.8" height="14" fill="#2f3e44"/><rect x="960.2" y="486.7" width="14.6" height="10.6" fill="#fff"/>
<rect x="965" y="499" width="5" height="4" fill="#2f3e44"/><polygon points="958,505 977,505 977.5,510 957.5,510" fill="#4c5a60"/>
<polygon points="841.0,528.1 931.3,528.1 933.4,552.3 838.5,552.3" fill="#557a82"/>
<rect x="832.6" y="553.3" width="107.3" height="15.8" fill="#1f4a55"/>
<line x1="837.4" y1="553.3" x2="837.4" y2="569.1" stroke="#9fb5ba" stroke-width="0.6"/>
<line x1="935.2" y1="553.3" x2="935.2" y2="569.1" stroke="#9fb5ba" stroke-width="0.6"/>
<rect x="841.0" y="555.2" width="4.8" height="12.2" fill="#2a5661" stroke="#eef4f5" stroke-width="1.1"/>
<circle cx="843.4" cy="557.8" r="0.9" fill="#c5d3d6"/>
<circle cx="843.4" cy="561.2" r="0.9" fill="#c5d3d6"/>
<circle cx="843.4" cy="564.6" r="0.9" fill="#c5d3d6"/>
<rect x="847.2" y="555.2" width="4.8" height="12.2" fill="#2a5661" stroke="#eef4f5" stroke-width="1.1"/>
<circle cx="849.6" cy="557.8" r="0.9" fill="#c5d3d6"/>
<circle cx="849.6" cy="561.2" r="0.9" fill="#c5d3d6"/>
<circle cx="849.6" cy="564.6" r="0.9" fill="#c5d3d6"/>
<rect x="853.4" y="555.2" width="4.8" height="12.2" fill="#2a5661" stroke="#eef4f5" stroke-width="1.1"/>
<circle cx="855.8" cy="557.8" r="0.9" fill="#c5d3d6"/>
<circle cx="855.8" cy="561.2" r="0.9" fill="#c5d3d6"/>
<circle cx="855.8" cy="564.6" r="0.9" fill="#c5d3d6"/>
<rect x="859.6" y="555.2" width="4.8" height="12.2" fill="#2a5661" stroke="#eef4f5" stroke-width="1.1"/>
<circle cx="862.0" cy="557.8" r="0.9" fill="#c5d3d6"/>
<circle cx="862.0" cy="561.2" r="0.9" fill="#c5d3d6"/>
<circle cx="862.0" cy="564.6" r="0.9" fill="#c5d3d6"/>
<rect x="865.8" y="555.2" width="4.8" height="12.2" fill="#2a5661" stroke="#eef4f5" stroke-width="1.1"/>
<circle cx="868.2" cy="557.8" r="0.9" fill="#c5d3d6"/>
<circle cx="868.2" cy="561.2" r="0.9" fill="#c5d3d6"/>
<circle cx="868.2" cy="564.6" r="0.9" fill="#c5d3d6"/>
<rect x="872.0" y="555.2" width="4.8" height="12.2" fill="#2a5661" stroke="#eef4f5" stroke-width="1.1"/>
<circle cx="874.4" cy="557.8" r="0.9" fill="#c5d3d6"/>
<circle cx="874.4" cy="561.2" r="0.9" fill="#c5d3d6"/>
<circle cx="874.4" cy="564.6" r="0.9" fill="#c5d3d6"/>
<rect x="878.2" y="555.2" width="4.8" height="12.2" fill="#2a5661" stroke="#eef4f5" stroke-width="1.1"/>
<circle cx="880.6" cy="557.8" r="0.9" fill="#c5d3d6"/>
<circle cx="880.6" cy="561.2" r="0.9" fill="#c5d3d6"/>
<circle cx="880.6" cy="564.6" r="0.9" fill="#c5d3d6"/>
<rect x="884.4" y="555.2" width="4.8" height="12.2" fill="#2a5661" stroke="#eef4f5" stroke-width="1.1"/>
<circle cx="886.8" cy="557.8" r="0.9" fill="#c5d3d6"/>
<circle cx="886.8" cy="561.2" r="0.9" fill="#c5d3d6"/>
<circle cx="886.8" cy="564.6" r="0.9" fill="#c5d3d6"/>
<rect x="890.6" y="555.2" width="4.8" height="12.2" fill="#2a5661" stroke="#eef4f5" stroke-width="1.1"/>
<circle cx="893.0" cy="557.8" r="0.9" fill="#c5d3d6"/>
<circle cx="893.0" cy="561.2" r="0.9" fill="#c5d3d6"/>
<circle cx="893.0" cy="564.6" r="0.9" fill="#c5d3d6"/>
<rect x="896.8" y="555.2" width="4.8" height="12.2" fill="#2a5661" stroke="#eef4f5" stroke-width="1.1"/>
<circle cx="899.2" cy="557.8" r="0.9" fill="#c5d3d6"/>
<circle cx="899.2" cy="561.2" r="0.9" fill="#c5d3d6"/>
<circle cx="899.2" cy="564.6" r="0.9" fill="#c5d3d6"/>
<rect x="903.0" y="555.2" width="4.8" height="12.2" fill="#2a5661" stroke="#eef4f5" stroke-width="1.1"/>
<circle cx="905.4" cy="557.8" r="0.9" fill="#c5d3d6"/>
<circle cx="905.4" cy="561.2" r="0.9" fill="#c5d3d6"/>
<circle cx="905.4" cy="564.6" r="0.9" fill="#c5d3d6"/>
<rect x="909.2" y="555.2" width="4.8" height="12.2" fill="#2a5661" stroke="#eef4f5" stroke-width="1.1"/>
<circle cx="911.6" cy="557.8" r="0.9" fill="#c5d3d6"/>
<circle cx="911.6" cy="561.2" r="0.9" fill="#c5d3d6"/>
<circle cx="911.6" cy="564.6" r="0.9" fill="#c5d3d6"/>
<rect x="915.4" y="555.2" width="4.8" height="12.2" fill="#2a5661" stroke="#eef4f5" stroke-width="1.1"/>
<circle cx="917.8" cy="557.8" r="0.9" fill="#c5d3d6"/>
<circle cx="917.8" cy="561.2" r="0.9" fill="#c5d3d6"/>
<circle cx="917.8" cy="564.6" r="0.9" fill="#c5d3d6"/>
<rect x="921.6" y="555.2" width="4.8" height="12.2" fill="#2a5661" stroke="#eef4f5" stroke-width="1.1"/>
<circle cx="924.0" cy="557.8" r="0.9" fill="#c5d3d6"/>
<circle cx="924.0" cy="561.2" r="0.9" fill="#c5d3d6"/>
<circle cx="924.0" cy="564.6" r="0.9" fill="#c5d3d6"/>
<rect x="927.8" y="555.2" width="4.8" height="12.2" fill="#2a5661" stroke="#eef4f5" stroke-width="1.1"/>
<circle cx="930.2" cy="557.8" r="0.9" fill="#c5d3d6"/>
<circle cx="930.2" cy="561.2" r="0.9" fill="#c5d3d6"/>
<circle cx="930.2" cy="564.6" r="0.9" fill="#c5d3d6"/>
<line x1="855.7" y1="569" x2="855.7" y2="594.5" stroke="#4aa8d8" stroke-width="1.5"/>
<line x1="865.1" y1="569" x2="865.1" y2="594.5" stroke="#4aa8d8" stroke-width="1.5"/>
<line x1="874.6" y1="569" x2="874.6" y2="594.5" stroke="#4aa8d8" stroke-width="1.5"/>
<line x1="884" y1="569" x2="884" y2="594.5" stroke="#4aa8d8" stroke-width="1.5"/>
<polygon points="844.0,594.3 901.0,594.3 903.0,611.1 842.0,611.1" fill="#557a82"/>
<rect x="840" y="611.1" width="65" height="11.5" fill="#1f4a55"/>
<rect x="850" y="613" width="51" height="7.5" fill="#eef3f4"/>
<rect x="851.5" y="614.5" width="4.5" height="4" fill="#1f4a55"/>
<rect x="858.5" y="614.5" width="4.5" height="4" fill="#1f4a55"/>
<rect x="865.5" y="614.5" width="4.5" height="4" fill="#1f4a55"/>
<rect x="872.5" y="614.5" width="4.5" height="4" fill="#1f4a55"/>
<rect x="879.5" y="614.5" width="4.5" height="4" fill="#1f4a55"/>
<rect x="886.5" y="614.5" width="4.5" height="4" fill="#1f4a55"/>
<rect x="893.5" y="614.5" width="4.5" height="4" fill="#1f4a55"/>
<rect x="842" y="614" width="1.2" height="5" fill="#cfdcdf"/><rect x="844.5" y="614" width="1.2" height="5" fill="#cfdcdf"/>
<line x1="904" y1="599.5" x2="930.2" y2="599.5" stroke="#3f9cc7" stroke-width="1.5"/>
<line x1="904" y1="618.4" x2="930.2" y2="618.4" stroke="#3f9cc7" stroke-width="1.5"/>
<rect x="930.2" y="593.2" width="16.5" height="3.4" fill="#557a82"/>
<rect x="931.5" y="594.0" width="2" height="1.6" fill="#fff"/>
<rect x="930.2" y="597.6" width="16.5" height="3.4" fill="#557a82"/>
<rect x="931.5" y="598.4" width="2" height="1.6" fill="#fff"/>
<rect x="930.2" y="602.0" width="16.5" height="3.4" fill="#557a82"/>
<rect x="931.5" y="602.8" width="2" height="1.6" fill="#fff"/>
<circle cx="946" cy="602.7" r="3.6" fill="#1f4a55" stroke="#fff" stroke-width="0.8"/><path d="M944.3,602.7 L945.6,604 L947.8,601.5" stroke="#fff" stroke-width="0.8" fill="none"/>
<rect x="930.2" y="610" width="15.8" height="12.6" fill="#557a82"/><rect x="930.2" y="618" width="15.8" height="4.6" fill="#1f4a55"/><circle cx="938" cy="613.8" r="2.8" fill="#fff"/><circle cx="938" cy="613.8" r="1" fill="#557a82"/>
</g>
<text x="760" y="457.4" font-family="Liberation Sans" font-weight="normal" font-size="8.5" fill="#2a2a2a" stroke="#2a2a2a" stroke-width="0.15" textLength="35.0" lengthAdjust="spacingAndGlyphs">IP Cameras</text>
<text x="722.2" y="522.1" font-family="Liberation Sans" font-weight="normal" font-size="8.5" fill="#2a2a2a" stroke="#2a2a2a" stroke-width="0.15" textLength="51.3" lengthAdjust="spacingAndGlyphs">Media Converter</text>
<text x="897.7" y="434.6" font-family="Liberation Sans" font-weight="normal" font-size="8.5" fill="#2a2a2a" stroke="#2a2a2a" stroke-width="0.15" textLength="50.3" lengthAdjust="spacingAndGlyphs">Media Converter</text>
<text x="948" y="479.4" font-family="Liberation Sans" font-weight="normal" font-size="8.5" fill="#2a2a2a" stroke="#2a2a2a" stroke-width="0.15" textLength="34.7" lengthAdjust="spacingAndGlyphs">IP Cameras</text>
<text x="951.2" y="523.4" font-family="Liberation Sans" font-weight="normal" font-size="8.5" fill="#2a2a2a" stroke="#2a2a2a" stroke-width="0.15" textLength="30.5" lengthAdjust="spacingAndGlyphs">Computer</text>
<text x="945" y="550.0" font-family="Liberation Sans" font-weight="normal" font-size="8.5" fill="#2a2a2a" stroke="#2a2a2a" stroke-width="0.15" textLength="50.3" lengthAdjust="spacingAndGlyphs">Media Converter</text>
<text x="945" y="559.0" font-family="Liberation Sans" font-weight="normal" font-size="8.5" fill="#2a2a2a" stroke="#2a2a2a" stroke-width="0.15" textLength="38.0" lengthAdjust="spacingAndGlyphs">Inserted into</text>
<text x="945" y="566.8" font-family="Liberation Sans" font-weight="normal" font-size="8.5" fill="#2a2a2a" stroke="#2a2a2a" stroke-width="0.15" textLength="25.0" lengthAdjust="spacingAndGlyphs">Chassis</text>
</svg><div class="t tt" id="t1" style="left:155.0px;top:181.5px;font-size:38.5px;letter-spacing:0.145px;font-weight:normal;-webkit-text-stroke:1.0px currentColor;transform:scaleX(1.08);transform-origin:0 0;">10/100 Mbps Media Converter—Ideal</div>
<div class="t tt" id="t2" style="left:243.5px;top:232.0px;font-size:38.5px;letter-spacing:0.303px;font-weight:normal;-webkit-text-stroke:1.0px currentColor;transform:scaleX(1.08);transform-origin:0 0;">for Surveillance Deployment</div>
<div class="t ct" id="c1a" style="left:42.5px;top:643.0px;font-size:22px;letter-spacing:0.902px;font-weight:normal;-webkit-text-stroke:0.65px currentColor;transform:scaleX(1.08);transform-origin:0 0;">Fiber Connection for</div>
<div class="t ct" id="c1b" style="left:19.0px;top:668.5px;font-size:22px;letter-spacing:0.8px;font-weight:normal;-webkit-text-stroke:0.65px currentColor;transform:scaleX(1.08);transform-origin:0 0;">Surveillance—Enterprise</div>
<div class="t ct" id="c1c" style="left:47.5px;top:693.5px;font-size:22px;letter-spacing:1.008px;font-weight:normal;-webkit-text-stroke:0.65px currentColor;transform:scaleX(1.08);transform-origin:0 0;">Monitoring Network</div>
<div class="t ct" id="c2a" style="left:385.4px;top:642.7px;font-size:22px;letter-spacing:0.926px;font-weight:normal;-webkit-text-stroke:0.65px currentColor;transform:scaleX(1.08);transform-origin:0 0;">Fiber Connection for</div>
<div class="t ct" id="c2b" style="left:396.5px;top:667.0px;font-size:22px;letter-spacing:0.637px;font-weight:normal;-webkit-text-stroke:0.65px currentColor;transform:scaleX(1.08);transform-origin:0 0;">Surveillance—Park</div>
<div class="t ct" id="c2c" style="left:390.5px;top:692.0px;font-size:22px;letter-spacing:1.062px;font-weight:normal;-webkit-text-stroke:0.65px currentColor;transform:scaleX(1.08);transform-origin:0 0;">Monitoring Network</div>
<div class="t ct" id="c3a" style="left:720.0px;top:637.7px;font-size:21px;letter-spacing:1.148px;font-weight:normal;-webkit-text-stroke:0.65px currentColor;transform:scaleX(1.1);transform-origin:0 0;">Fiber Connection for</div>
<div class="t ct" id="c3b" style="left:693.8px;top:659.9px;font-size:21px;letter-spacing:0.992px;font-weight:normal;-webkit-text-stroke:0.65px currentColor;transform:scaleX(1.1);transform-origin:0 0;">Surveillance—The Indoor</div>
<div class="t ct" id="c3c" style="left:704.6px;top:682.3px;font-size:21px;letter-spacing:1.008px;font-weight:normal;-webkit-text-stroke:0.65px currentColor;transform:scaleX(1.1);transform-origin:0 0;">Electric Well (Requiring</div>
<div class="t ct" id="c3d" style="left:736.0px;top:704.4px;font-size:21px;letter-spacing:1.283px;font-weight:normal;-webkit-text-stroke:0.65px currentColor;transform:scaleX(1.1);transform-origin:0 0;">Anti-Interference)</div>
<div class="t lg" id="l1" style="left:148.9px;top:795.8px;font-size:18px;letter-spacing:0.125px;font-weight:normal;">Fiber</div>
<div class="t lg" id="l2" style="left:311.3px;top:795.8px;font-size:18px;letter-spacing:-0.02px;font-weight:normal;">Ethernet Cable (Data Only)</div>
<div class="t lg" id="l3" style="left:648.2px;top:795.8px;font-size:18px;letter-spacing:0.033px;font-weight:normal;">Ethernet Cable (Power and Data)</div>
</body></html>
